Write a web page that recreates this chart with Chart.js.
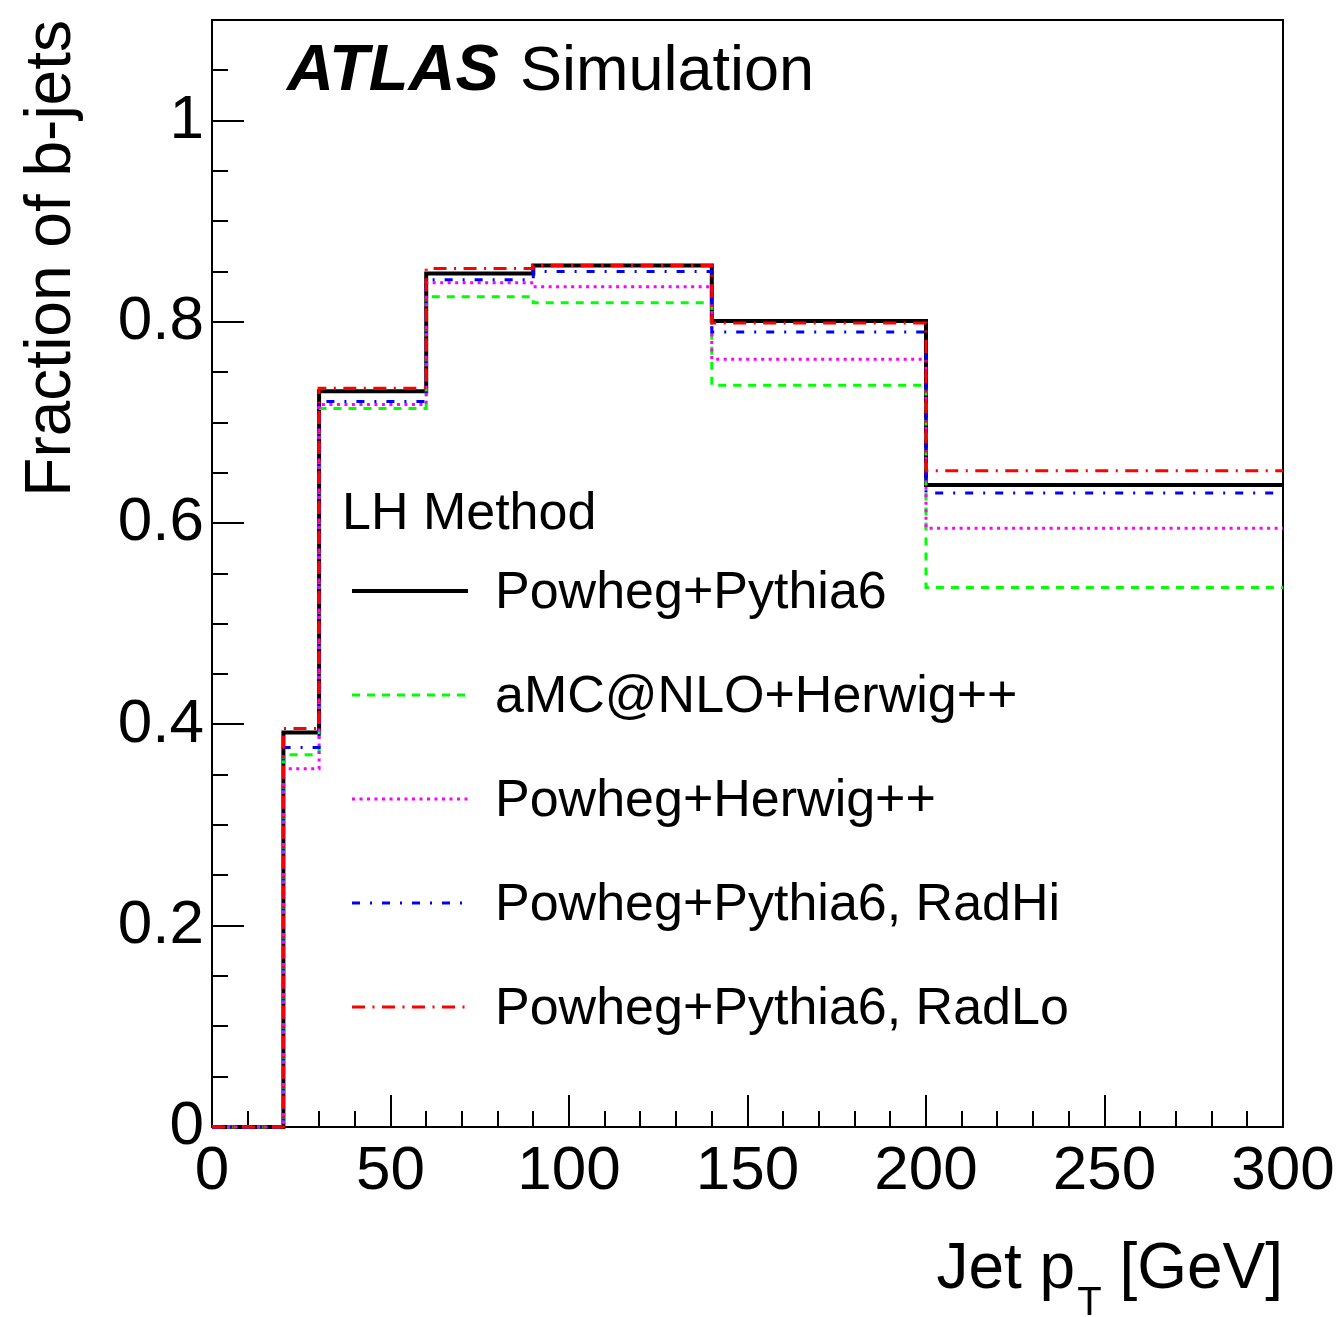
<!DOCTYPE html>
<html>
<head>
<meta charset="utf-8">
<title>Fraction of b-jets</title>
<script src="https://cdn.jsdelivr.net/npm/chart.js@4.4.1/dist/chart.umd.min.js"></script>
<style>
  html, body { margin: 0; padding: 0; background: #fff; }
  canvas { display: block; }
</style>
</head>
<body>
<canvas id="bjets" width="1342" height="1317"></canvas>
<script>
// bin edges in jet pT [GeV]
const binEdges = [0, 20, 30, 60, 90, 140, 200, 300];

// b-jet fraction per bin (LH method)
const powhegPythia6 = [0, 0.392, 0.731, 0.848, 0.856, 0.801, 0.638];
const amcHerwig     = [0, 0.370, 0.714, 0.825, 0.819, 0.737, 0.536];
const powhegHerwig  = [0, 0.356, 0.718, 0.839, 0.835, 0.763, 0.595];
const radHi         = [0, 0.377, 0.721, 0.842, 0.850, 0.790, 0.630];
const radLo         = [0, 0.396, 0.734, 0.853, 0.856, 0.799, 0.652];

const seriesNames = ['Powheg+Pythia6', 'aMC@NLO+Herwig++', 'Powheg+Herwig++',
                     'Powheg+Pythia6, RadHi', 'Powheg+Pythia6, RadLo'];
const yTickLabels = ['0', '0.2', '0.4', '0.6', '0.8', '1'];

const FONT = '"Liberation Sans", Arial, Helvetica, sans-serif';

// histogram -> points on left edges, last value repeated at the right edge
function toSteps(vals) {
  const pts = vals.map((v, i) => ({ x: binEdges[i], y: v }));
  pts.push({ x: binEdges[binEdges.length - 1], y: vals[vals.length - 1] });
  return pts;
}

function histo(label, vals, color, dash, width, order) {
  return {
    label: label,
    data: toSteps(vals),
    borderColor: color,
    backgroundColor: color,
    borderWidth: width,
    borderDash: dash,
    borderCapStyle: 'butt',
    stepped: true,
    pointRadius: 0,
    fill: false,
    clip: { left: 2, top: 2, right: 0, bottom: 2 },
    order: order,
  };
}

const datasets = [
  histo(seriesNames[0], powhegPythia6, '#000000', [], 4, 5),
  histo(seriesNames[1], amcHerwig, '#00ff00', [8, 7], 3, 4),
  histo(seriesNames[2], powhegHerwig, '#ff00ff', [3, 4.5], 3, 3),
  histo(seriesNames[3], radHi, '#0000ff', [8, 10, 2, 10], 3, 2),
  histo(seriesNames[4], radLo, '#ff0000', [13, 7.5, 2, 7.5], 3, 1),
];

// frame + ROOT-style tick marks
const frame = {
  id: 'frame',
  beforeDatasetsDraw(chart) {
    const { ctx, chartArea: a, scales: { x, y } } = chart;
    ctx.save();
    ctx.strokeStyle = '#000';
    ctx.lineWidth = 2;
    ctx.strokeRect(a.left, a.top, a.right - a.left, a.bottom - a.top);
    ctx.beginPath();
    for (let v = 0; v <= 1.0501; v += 0.05) {
      const py = Math.round(y.getPixelForValue(v));
      const major = Math.abs(v / 0.2 - Math.round(v / 0.2)) < 1e-6;
      ctx.moveTo(a.left, py);
      ctx.lineTo(a.left + (major ? 32 : 16), py);
    }
    for (let v = 10; v < 300; v += 10) {
      const px = Math.round(x.getPixelForValue(v));
      ctx.moveTo(px, a.bottom);
      ctx.lineTo(px, a.bottom - (v % 50 === 0 ? 32 : 16));
    }
    ctx.stroke();
    ctx.restore();
  }
};

// titles, ATLAS label and legend
const labels = {
  id: 'labels',
  afterDraw(chart) {
    const { ctx, chartArea: a } = chart;
    ctx.save();
    ctx.fillStyle = '#000';
    ctx.textBaseline = 'alphabetic';

    // ATLAS Simulation
    ctx.font = 'italic bold 65px ' + FONT;
    ctx.textAlign = 'left';
    ctx.fillText('ATLAS', 287, 90);
    ctx.font = '63px ' + FONT;
    ctx.fillText('Simulation', 520, 90);

    // y title
    ctx.save();
    ctx.translate(70, a.top);
    ctx.rotate(-Math.PI / 2);
    ctx.font = '64px ' + FONT;
    ctx.textAlign = 'right';
    ctx.fillText('Fraction of b-jets', 0, 0);
    ctx.restore();

    // x title with subscript
    ctx.font = '64px ' + FONT;
    ctx.textAlign = 'right';
    const tail = ' [GeV]';
    ctx.fillText(tail, a.right, 1288);
    let xr = a.right - ctx.measureText(tail).width;
    ctx.font = '40px ' + FONT;
    ctx.fillText('T', xr, 1315);
    xr -= ctx.measureText('T').width + 2;
    ctx.font = '64px ' + FONT;
    ctx.fillText('Jet p', xr, 1288);

    // legend
    ctx.textAlign = 'left';
    ctx.textBaseline = 'middle';
    ctx.font = '52px ' + FONT;
    ctx.fillText('LH Method', 342, 515);
    chart.data.datasets.forEach((ds, i) => {
      const yy = 594 + i * 104;
      ctx.save();
      ctx.strokeStyle = ds.borderColor;
      ctx.lineWidth = ds.borderWidth;
      ctx.setLineDash(ds.borderDash);
      ctx.lineCap = 'butt';
      ctx.beginPath();
      ctx.moveTo(352, yy - 3);
      ctx.lineTo(468, yy - 3);
      ctx.stroke();
      ctx.restore();
      ctx.fillText(ds.label, 495, yy);
    });
    ctx.restore();
  }
};

const canvas = document.getElementById('bjets');
const chart = new Chart(canvas.getContext('2d'), {
  type: 'line',
  data: { datasets: datasets },
  options: {
    responsive: false,
    animation: false,
    layout: { padding: { top: 20, right: 59, left: 0, bottom: 0 } },
    plugins: { legend: { display: false }, tooltip: { enabled: false } },
    scales: {
      x: {
        type: 'linear',
        min: 0,
        max: 300,
        grid: { display: false, drawTicks: false },
        border: { display: false },
        ticks: {
          stepSize: 50,
          padding: 8,
          color: '#000',
          font: { family: FONT, size: 62 },
          maxRotation: 0,
        },
        afterFit(s) { s.height = 190; s.paddingLeft = 0; s.paddingRight = 0; },
      },
      y: {
        type: 'linear',
        min: 0,
        max: 1.1,
        grid: { display: false, drawTicks: false },
        border: { display: false },
        ticks: {
          stepSize: 0.2,
          padding: 8,
          color: '#000',
          font: { family: FONT, size: 62 },
          callback: (v) => yTickLabels[Math.round(v / 0.2)],
        },
        afterBuildTicks(s) { s.ticks = s.ticks.filter(t => t.value <= 1.0001); },
        afterFit(s) { s.width = 212; s.paddingTop = 0; s.paddingBottom = 0; },
      },
    },
  },
  plugins: [frame, labels],
});
</script>
</body>
</html>
